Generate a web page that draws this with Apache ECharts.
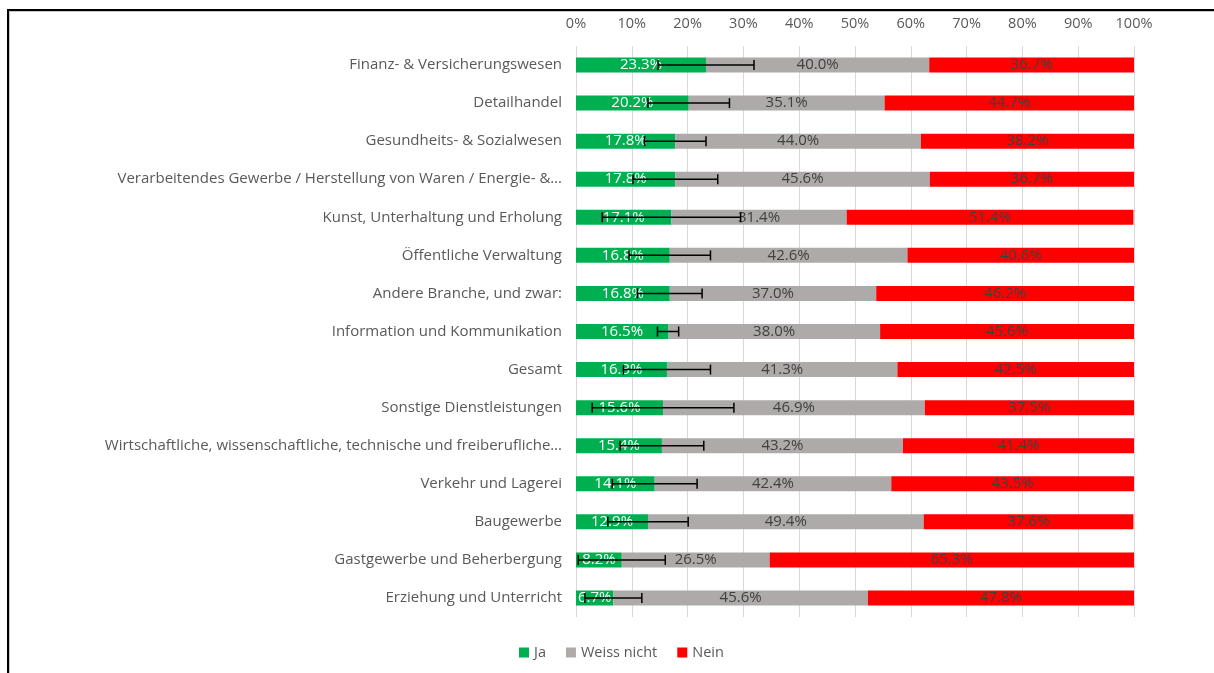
<!DOCTYPE html>
<html>
<head>
<meta charset="utf-8">
<title>Branchen</title>
<script src="https://cdn.jsdelivr.net/npm/echarts@6/dist/echarts.min.js"></script>
<style>
  html, body { margin: 0; padding: 0; background: #fff; }
  #wrap { position: relative; width: 1214px; height: 673px; overflow: hidden; }
  #frame {
    position: absolute; left: 7px; top: 9px; width: 1300px; height: 800px;
    border-top: 2px solid #000; border-left: 2px solid #000;
    box-shadow: inset 1px 1px 0 #c8c8c8;
  }
  #chart { position: absolute; left: 0; top: 0; width: 1214px; height: 673px; }
</style>
</head>
<body>
<div id="wrap">
  <div id="frame"></div>
  <div id="chart"></div>
</div>
<script>
const categories = [
  'Finanz- & Versicherungswesen',
  'Detailhandel',
  'Gesundheits- & Sozialwesen',
  'Verarbeitendes Gewerbe / Herstellung von Waren / Energie- &…',
  'Kunst, Unterhaltung und Erholung',
  'Öffentliche Verwaltung',
  'Andere Branche, und zwar:',
  'Information und Kommunikation',
  'Gesamt',
  'Sonstige Dienstleistungen',
  'Wirtschaftliche, wissenschaftliche, technische und freiberufliche…',
  'Verkehr und Lagerei',
  'Baugewerbe',
  'Gastgewerbe und Beherbergung',
  'Erziehung und Unterricht'
]
const ja = [23.3, 20.2, 17.8, 17.8, 17.1, 16.8, 16.8, 16.5, 16.3, 15.6, 15.4, 14.1, 12.9, 8.2, 6.7]
const weissNicht = [40.0, 35.1, 44.0, 45.6, 31.4, 42.6, 37.0, 38.0, 41.3, 46.9, 43.2, 42.4, 49.4, 26.5, 45.6]
const nein = [36.7, 44.7, 38.2, 36.7, 51.4, 40.6, 46.2, 45.6, 42.5, 37.5, 41.4, 43.5, 37.6, 65.3, 47.8]
// Fehlerbalken (± um den Ja-Wert), aus dem Bild geschaetzt
const jaError = [8.6, 7.3, 5.5, 7.6, 12.4, 7.3, 5.8, 1.9, 7.8, 12.7, 7.5, 7.6, 7.2, 7.8, 5.1]

const font = 'Open Sans, Noto Sans, sans-serif'

const chart = echarts.init(document.getElementById('chart'))

function pctLabel(color) {
  return {
    show: true,
    position: 'inside',
    color: color,
    fontFamily: font,
    fontSize: 15,
    formatter: p => p.value.toFixed(1) + '%'
  }
}

const errorData = ja.map((v, i) => [i, Math.max(0, v - jaError[i]), v + jaError[i]])

chart.setOption({
  animation: false,
  textStyle: { fontFamily: font },
  legend: {
    left: 514,
    top: 640,
    itemWidth: 10,
    itemHeight: 10,
    itemGap: 20,
    icon: 'rect',
    textStyle: { color: '#595959', fontSize: 14.5, fontFamily: font },
    data: ['Ja', 'Weiss nicht', 'Nein']
  },
  grid: {
    left: 576,
    right: 80,
    top: 46,
    bottom: 56,
    containLabel: false
  },
  xAxis: {
    type: 'value',
    position: 'top',
    min: 0,
    max: 100,
    interval: 10,
    axisLine: { show: false },
    axisTick: { show: false },
    axisLabel: {
      color: '#595959',
      fontSize: 14.5,
      margin: 15,
      formatter: '{value}%'
    },
    splitLine: { lineStyle: { color: '#d9d9d9', width: 1 } }
  },
  yAxis: {
    type: 'category',
    inverse: true,
    data: categories,
    axisLine: { show: false },
    axisTick: { show: false },
    axisLabel: { color: '#595959', fontSize: 15, margin: 14 }
  },
  series: [
    {
      name: 'Ja',
      type: 'bar',
      stack: 'total',
      barWidth: 15,
      itemStyle: { color: '#00b050' },
      label: pctLabel('#ffffff'),
      data: ja
    },
    {
      name: 'Weiss nicht',
      type: 'bar',
      stack: 'total',
      barWidth: 15,
      itemStyle: { color: '#aeaaaa' },
      label: pctLabel('#404040'),
      data: weissNicht
    },
    {
      name: 'Nein',
      type: 'bar',
      stack: 'total',
      barWidth: 15,
      itemStyle: { color: '#ff0000' },
      label: pctLabel('#404040'),
      data: nein
    },
    {
      name: 'Fehler',
      type: 'custom',
      z: 5,
      silent: true,
      data: errorData,
      encode: { x: [1, 2], y: 0 },
      renderItem: function (params, api) {
        const cat = api.value(0)
        const lo = api.coord([api.value(1), cat])
        const hi = api.coord([api.value(2), cat])
        const cap = 5
        const style = { stroke: '#000', lineWidth: 1.5 }
        return {
          type: 'group',
          children: [
            { type: 'line', shape: { x1: lo[0], y1: lo[1], x2: hi[0], y2: hi[1] }, style: style },
            { type: 'line', shape: { x1: lo[0], y1: lo[1] - cap, x2: lo[0], y2: lo[1] + cap }, style: style },
            { type: 'line', shape: { x1: hi[0], y1: hi[1] - cap, x2: hi[0], y2: hi[1] + cap }, style: style }
          ]
        }
      }
    }
  ]
})
</script>
</body>
</html>
